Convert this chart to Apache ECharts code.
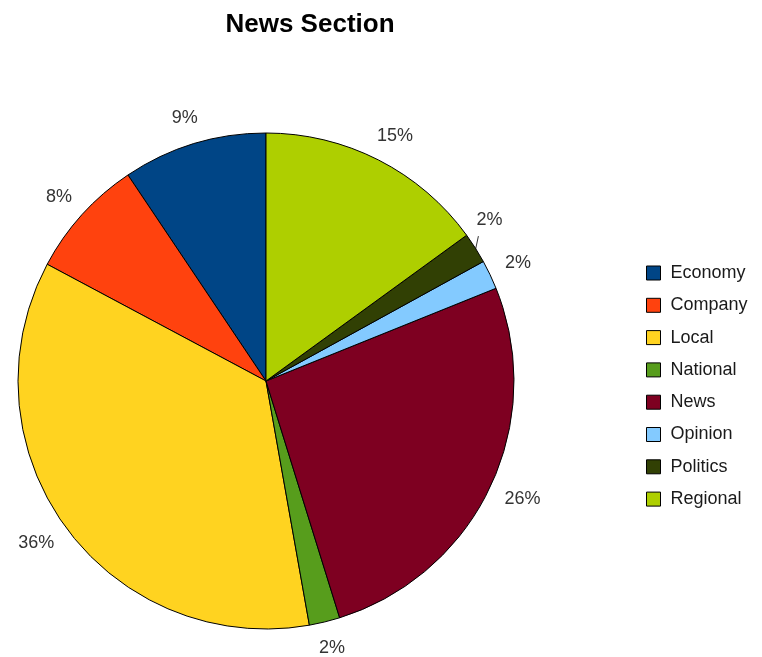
<!DOCTYPE html>
<html>
<head>
<meta charset="utf-8">
<script src="https://cdn.jsdelivr.net/npm/echarts@6/dist/echarts.min.js"></script>
<style>html,body{margin:0;padding:0;background:#fff}#c{width:762px;height:657px}</style>
</head>
<body>
<div id="c"></div>
<script>
var titleText = 'News Section';
var categories = ['Economy', 'Company', 'Local', 'National', 'News', 'Opinion', 'Politics', 'Regional'];
var values = [9.4, 7.8, 35.6, 2.0, 26.3, 1.9, 2.0, 15.0];
var colors = ['#004586', '#ff420e', '#ffd320', '#579d1c', '#7e0021', '#83caff', '#314004', '#aecf00'];

var CX = 266, CY = 381, R = 248, LABEL_OFF = 18;

var data = categories.map(function (c, i) {
  var d = { name: c, value: values[i], itemStyle: { color: colors[i] } };
  if (c === 'Politics') {
    d.labelLine = { show: true, lineStyle: { color: '#333', width: 1, opacity: 1 } };
  }
  return d;
});

var chart = echarts.init(document.getElementById('c'), null, { renderer: 'canvas' });
chart.setOption({
  animation: false,
  backgroundColor: '#ffffff',
  title: {
    text: titleText,
    left: 305, top: 7, textAlign: 'center',
    textStyle: { fontFamily: 'Liberation Sans, Arial, sans-serif', fontSize: 26, fontWeight: 'bold', color: '#000' }
  },
  legend: {
    orient: 'vertical',
    left: 646, top: 264, padding: 0,
    itemWidth: 14, itemHeight: 14, itemGap: 14.3,
    icon: 'rect',
    data: categories,
    itemStyle: { borderColor: '#000', borderWidth: 1 },
    textStyle: { fontFamily: 'Liberation Sans, Arial, sans-serif', fontSize: 18, color: '#1a1a1a', padding: [0, 0, 0, 5] }
  },
  series: [{
    type: 'pie',
    center: [CX, CY],
    radius: R,
    startAngle: 90,
    clockwise: false,
    avoidLabelOverlap: false,
    data: data,
    itemStyle: { borderColor: '#000', borderWidth: 1 },
    label: {
      show: true,
      position: 'outside',
      formatter: function (p) { return Math.round(p.percent) + '%'; },
      fontFamily: 'Liberation Sans, Arial, sans-serif',
      fontSize: 18,
      color: '#333'
    },
    labelLine: { show: true, length: 10, length2: 0, lineStyle: { opacity: 0 } },
    labelLayout: function (p) {
      var pts = p.labelLinePoints;
      var px, py;
      if (pts && pts.length) { px = pts[0][0]; py = pts[0][1]; }
      else { px = p.labelRect.x + p.labelRect.width / 2; py = p.labelRect.y + p.labelRect.height / 2; }
      var dx = px - CX, dy = py - CY, len = Math.sqrt(dx * dx + dy * dy) || 1;
      dx /= len; dy /= len;
      var w = p.labelRect.width, h = p.labelRect.height;
      var x = CX + dx * (R + LABEL_OFF) + dx * w / 2;
      var y = CY + dy * (R + LABEL_OFF) + dy * h / 2;
      var out = { x: x, y: y, align: 'center', verticalAlign: 'middle' };
      if (categories[p.dataIndex] === 'Politics') {
        var ax = CX + dx * R, ay = CY + dy * R;
        out.x = x - 12; out.y = y - 14;
        out.labelLinePoints = [[ax, ay + 2], [ax + 3, ay - 12], [ax + 3, ay - 12]];
      }
      return out;
    },
    emphasis: { disabled: true }
  }]
});
</script>
</body>
</html>
